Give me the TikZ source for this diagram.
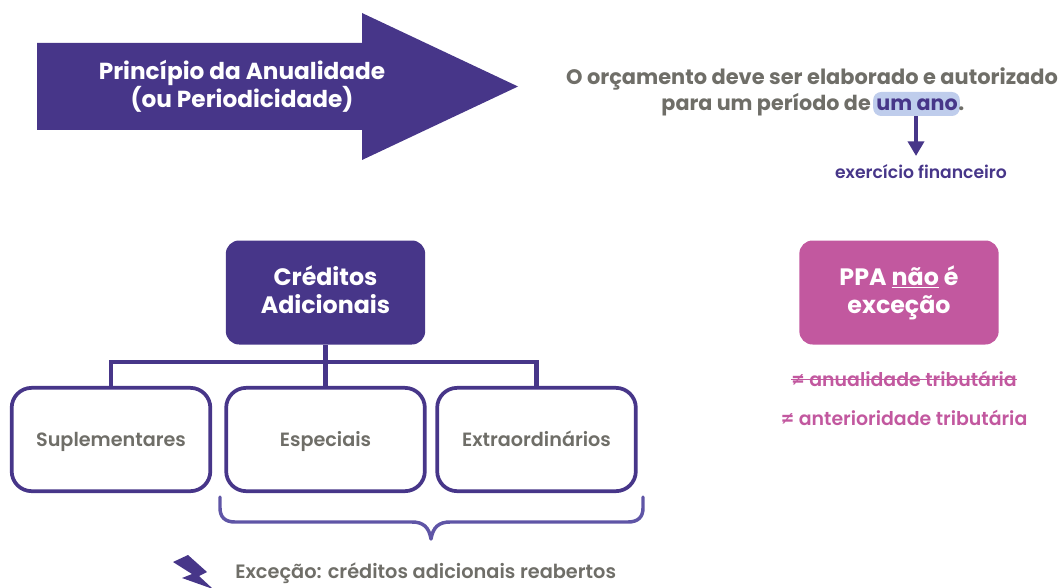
\documentclass[tikz,border=0pt]{standalone}
\usepackage{fontspec}
\setmainfont{Poppins}
\newfontfamily\medfont{Poppins}[UprightFont=* SemiBold]
\usepackage{xcolor}
\usetikzlibrary{arrows.meta}
\definecolor{purp}{HTML}{473689}
\definecolor{pinkc}{HTML}{C2589F}
\definecolor{greyc}{HTML}{6F6E68}
\definecolor{hl}{HTML}{BFCDEC}
\definecolor{brace}{HTML}{5F55A6}
\newcommand{\headlines}[2]{\begin{tabular}{@{}c@{}}\rule{0pt}{16.9pt}#1\\#2\end{tabular}}
\tikzset{
  titletext/.style={font=\bfseries\fontsize{17.4}{21}\selectfont,align=center,inner sep=0pt},
  greyhead/.style={text=greyc,font=\bfseries\fontsize{15.7}{20}\selectfont,inner sep=0pt},
  headbox/.style={rounded corners=10pt,minimum width=149.5pt,minimum height=78pt,text=white,font=\bfseries\fontsize{17.8}{21}\selectfont,inner sep=0pt},
  subbox/.style={draw=purp,line width=2.8pt,fill=white,rounded corners=15pt,minimum width=149pt,minimum height=77.5pt,text height=13pt,text depth=3.2pt,text=greyc,font=\medfont\fontsize{14.4}{16}\selectfont,inner sep=0pt},
  tree/.style={draw=purp,line width=3.2pt},
  pinktext/.style={text=pinkc,font=\medfont\fontsize{14.2}{16}\selectfont,inner sep=0pt},
}
\begin{document}
\begin{tikzpicture}[x=0.75pt,y=-0.75pt]
\useasboundingbox (0,0) rectangle (1060,588);
\clip (0,0) rectangle (1060,588);
% big arrow
\fill[purp] (37,43) -- (362,43) -- (362,13) -- (518,86.5) -- (362,160) -- (362,130) -- (37,130) -- cycle;
\node[titletext,text=white] (title) at (242,86) {Princípio da Anualidade\\(ou Periodicidade)};
% definition
\node[greyhead,anchor=base] (def1) at (812,85) {O orçamento deve ser elaborado e autorizado};
\node[greyhead,anchor=base east,font=\bfseries\fontsize{15.5}{20}\selectfont] (def2) at (871,111) {para um período de};
\node[fill=hl,rounded corners=6pt,minimum width=65pt,minimum height=18pt,inner sep=0pt] (hlbox) at (916.5,104) {};
\node[anchor=base,text=purp,font=\bfseries\fontsize{15.5}{20}\selectfont,inner sep=0pt] (umano) at (917,111) {um ano};
\node[greyhead,anchor=base west] (dot) at (958,111) {.};
\node[text=purp,font=\medfont\fontsize{12.9}{15}\selectfont,inner sep=0pt] (exerc) at (921,172) {exercício financeiro};
\coordinate (arrowend) at (916,156);
\draw[draw=purp,line width=3pt,-{Triangle[length=11pt,width=12pt]}] (hlbox.south -| arrowend) -- (arrowend);
% tree
\node[headbox,fill=purp] (cred) at (325.5,292.5) {\headlines{Créditos}{Adicionais}};
\node[subbox] (sup) at (111,439.5) {Suplementares};
\node[subbox] (esp) at (325.5,439.5) {Especiais};
\node[subbox] (ext) at (536.5,439.5) {Extraordinários};
\coordinate (bar) at (325.5,362);
\draw[tree] (cred.south) -- (esp.north);
\draw[tree] (sup.north) |- (bar) -| (ext.north);
% brace
\coordinate (bl) at (220,497);
\coordinate (br) at (643,497);
\coordinate (bm) at (431,539);
\draw[draw=brace,line width=2.6pt,line cap=round,line join=round]
  (bl) -- (220,508) .. controls (220,517) and (225,522) .. (235,522)
  -- (412,522) .. controls (423,522) and (429,527) .. (bm)
  .. controls (433,527) and (439,522) .. (450,522)
  -- (628,522) .. controls (638,522) and (643,517) .. (643,508) -- (br);
% lightning
\fill[purp] (188,555) -- (173,562) -- (192,574) -- (182,578) -- (213,589) -- (199,576) -- (207,572) -- cycle;
\node[anchor=base west,text=greyc,font=\medfont\fontsize{14.5}{16}\selectfont,inner sep=0pt] (exc) at (235,578) {Exceção: créditos adicionais reabertos};
% PPA
\node[headbox,fill=pinkc] (ppa) at (899,292.5) {\headlines{PPA \underline{não} é}{exceção}};
\node[pinktext] (anu) at (904,379) {≠ anualidade tributária};
\draw[draw=pinkc,line width=1pt] (anu.west |- 0,379.5) -- (anu.east |- 0,379.5);
\node[pinktext] (ant) at (904,418) {≠ anterioridade tributária};
\end{tikzpicture}
\end{document}
